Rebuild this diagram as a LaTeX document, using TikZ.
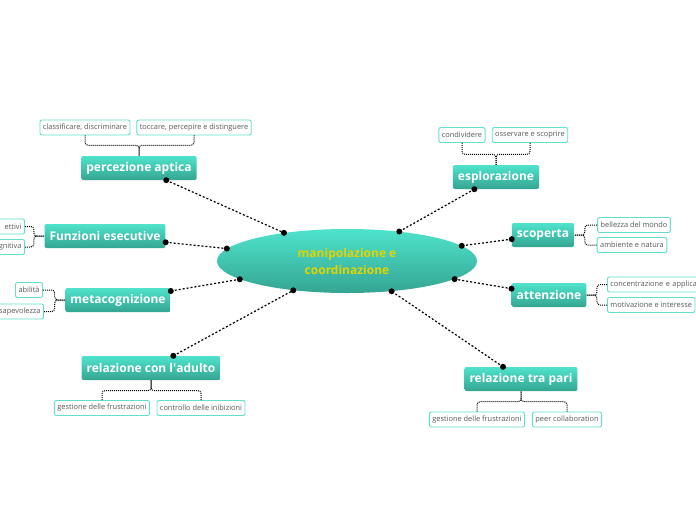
\documentclass[tikz,border=0pt]{standalone}
\usepackage{fontspec}
\setmainfont{Open Sans}
\usetikzlibrary{shapes.geometric,calc}
\definecolor{tealA}{HTML}{4FE3CC}
\definecolor{tealB}{HTML}{34A592}
\definecolor{leafB}{HTML}{62E0CB}
\definecolor{ctxt}{HTML}{E3D400}
\definecolor{ltxt}{HTML}{5A5A5A}
\begin{document}
\begin{tikzpicture}[x=1pt,y=-1pt,
  main/.style={rectangle, rounded corners=2pt, top color=tealA, bottom color=tealB, draw=none, text=white, font=\bfseries\fontsize{12}{14}\selectfont, inner xsep=5pt, inner ysep=0pt, minimum height=24pt},
  leaf/.style={rectangle, rounded corners=2pt, fill=white, draw=leafB, line width=0.9pt, text=ltxt, font=\fontsize{7.4}{8}\selectfont, inner xsep=3pt, inner ysep=0pt, minimum height=15pt},
  conn/.style={line width=1.2pt, dash pattern=on 2pt off 2pt},
  dot/.style={circle, fill=black, inner sep=0pt, minimum size=6pt},
  bus/.style={line width=1pt, dash pattern=on 1pt off 1pt, rounded corners=3pt}]
\useasboundingbox (0,0) rectangle (696,520);
\clip (0,0) rectangle (696,520);
\fill[white] (0,0) rectangle (696,520);
% center
\node[ellipse, minimum width=260pt, minimum height=64pt, inner sep=0pt, top color=tealA, bottom color=tealB, text=ctxt, align=center, font=\bfseries\fontsize{12}{17}\selectfont] (c) at (347,261) {manipolazione e\\coordinazione};
% main nodes
\node[main] (pa) at (139,168) {percezione aptica};
\node[main] (es) at (496,177) {esplorazione};
\node[main] (fe) at (105,236) {Funzioni esecutive};
\node[main] (sc) at (543,235) {scoperta};
\node[main] (at) at (549,295) {attenzione};
\node[main] (mc) at (118,300) {metacognizione};
\node[main] (ra) at (151,368) {relazione con l\textquotesingle adulto};
\node[main] (rp) at (521,379) {relazione tra pari};
% connectors to center
\foreach \n in {pa,es,fe,sc,at,mc,ra,rp}{\draw[conn] (\n) -- (c) node[dot, pos=0]{} node[dot, pos=1]{};}
% leaves
\node[leaf] (pa1) at (85,127.5) {classificare, discriminare};
\node[leaf] (pa2) at (194,127.5) {toccare, percepire e distinguere};
\node[leaf] (es1) at (462,135) {condividere};
\node[leaf] (es2) at (530,135) {osservare e scoprire};
\node[leaf] (sc1) at (634,225) {bellezza del mondo};
\node[leaf] (sc2) at (632,245) {ambiente e natura};
\node[leaf, anchor=west, text width=95pt, align=left] (at1) at (607,284.5) {concentrazione e applica};
\node[leaf, anchor=west] (at2) at (607,305) {motivazione e interesse};
\node[leaf, anchor=east, text width=50pt, align=right] (fe1) at (25,226.5) {ettivi};
\node[leaf, anchor=east, text width=50pt, align=right] (fe2) at (25,247) {gnitiva};
\node[leaf] (mc1) at (29,290) {abilità};
\node[leaf, anchor=east, text width=60pt, align=right] (mc2) at (44,311.5) {sapevolezza};
\node[leaf] (ra1) at (102,408) {gestione delle frustrazioni};
\node[leaf] (ra2) at (201,408) {controllo delle inibizioni};
\node[leaf] (rp1) at (477,419.5) {gestione delle frustrazioni};
\node[leaf] (rp2) at (567,419.5) {peer collaboration};
% brackets
\foreach \p/\l in {pa/pa1,pa/pa2,es/es1,es/es2}{\draw[bus] (\l.south) |- ($(\p.north)+(0,-10.5)$) -- (\p.north);}
\foreach \p/\l in {ra/ra1,ra/ra2,rp/rp1,rp/rp2}{\draw[bus] (\l.north) |- ($(\p.south)+(0,10.5)$) -- (\p.south);}
\foreach \p/\l in {sc/sc1,sc/sc2,at/at1,at/at2}{\draw[bus] (\l.west) -| ($(\p.east)+(10.5,0)$) -- (\p.east);}
\foreach \p/\l in {fe/fe1,fe/fe2,mc/mc1,mc/mc2}{\draw[bus] (\l.east) -| ($(\p.west)+(-10.5,0)$) -- (\p.west);}
\end{tikzpicture}
\end{document}
